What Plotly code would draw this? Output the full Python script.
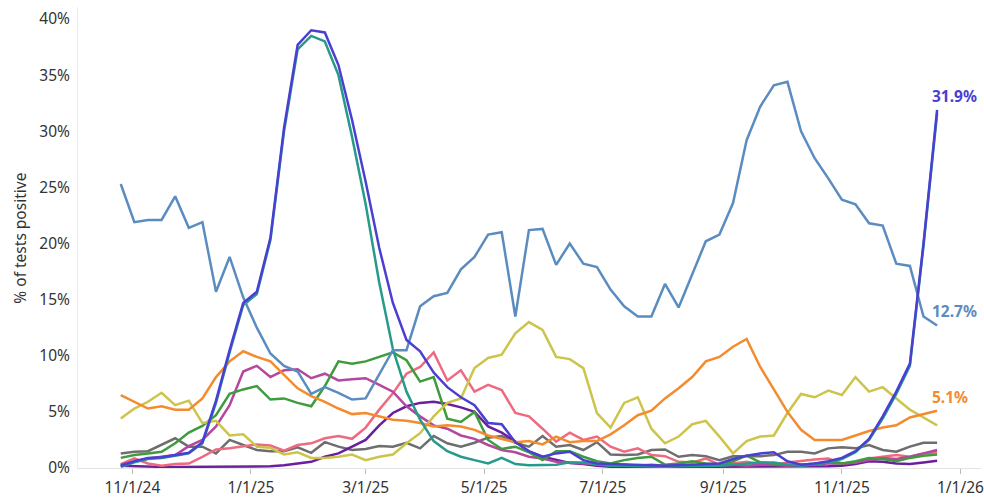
import pandas as pd
import plotly.graph_objects as go

dates = pd.date_range("2024-10-26", periods=61, freq="7D")

rhino = [25.3, 21.9, 22.1, 22.1, 24.2, 21.4, 21.9, 15.7, 18.8, 15.2,
         12.5, 10.2, 9.1, 8.6, 6.6, 7.2, 6.7, 6.1, 6.2, 8.4,
         10.5, 10.5, 14.4, 15.3, 15.6, 17.7, 18.8, 20.8, 21.0, 13.5,
         21.2, 21.3, 18.1, 20.0, 18.2, 17.9, 15.9, 14.4, 13.5, 13.5,
         16.4, 14.3, 17.3, 20.2, 20.8, 23.6, 29.2, 32.2, 34.1, 34.4,
         30.0, 27.6, 25.8, 23.9, 23.5, 21.8, 21.6, 18.2, 18.0, 13.5, 12.7]

flu_a = [0.2, 0.6, 0.9, 0.95, 1.15, 1.35, 2.3, 6.0, 10.5, 14.7,
         15.7, 20.5, 30.3, 37.7, 39.0, 38.8, 35.9, 31.0, 25.5, 19.6,
         14.7, 11.4, 10.4, 8.5, 7.2, 6.3, 5.6, 4.0, 3.9, 2.3,
         1.5, 1.0, 1.3, 1.45, 0.7, 0.4, 0.35, 0.3, 0.3, 0.25,
         0.2, 0.25, 0.3, 0.3, 0.4, 0.8, 1.1, 1.3, 1.4, 0.6,
         0.3, 0.4, 0.6, 0.9, 1.5, 2.6, 4.6, 6.8, 9.3, 20.0, 31.9]

flu_a_sub = [0.1, 0.5, 0.8, 0.9, 1.1, 1.3, 2.2, 5.8, 10.3, 14.5,
             15.5, 20.3, 30.0, 37.3, 38.5, 38.0, 35.0, 29.5, 23.5, 16.5,
             10.6, 6.8, 4.3, 2.4, 1.5, 1.0, 0.7, 0.4, 0.9, 0.35,
             0.25, 0.25, 0.3, 0.5, 0.5, 0.3, 0.2, 0.2, 0.15, 0.15,
             0.1, 0.15, 0.15, 0.2, 0.2, 0.3, 0.4, 0.5, 0.5, 0.3,
             0.2, 0.3, 0.5, 0.8, 1.4, 2.5, 4.4, 6.6, 9.1, 19.8, 31.6]

covid = [6.5, 5.9, 5.3, 5.5, 5.2, 5.2, 6.2, 8.1, 9.5, 10.4,
         9.9, 9.5, 8.3, 7.1, 6.4, 5.9, 5.3, 4.8, 4.9, 4.6,
         4.3, 4.2, 4.0, 3.7, 3.8, 3.7, 3.4, 2.9, 2.6, 2.3,
         2.4, 2.1, 2.8, 2.3, 2.4, 2.4, 3.0, 3.8, 4.7, 5.1,
         6.2, 7.1, 8.1, 9.5, 9.9, 10.8, 11.5, 9.0, 7.0, 5.0,
         3.4, 2.5, 2.5, 2.5, 2.9, 3.3, 3.6, 3.8, 4.5, 4.8, 5.1]

yellow = [4.4, 5.3, 5.9, 6.7, 5.6, 6.0, 4.0, 4.2, 2.9, 3.0,
          1.9, 1.8, 1.2, 1.4, 0.9, 0.9, 1.0, 1.2, 0.7, 1.0,
          1.2, 2.2, 3.1, 4.6, 5.8, 6.2, 8.9, 9.8, 10.1, 12.0,
          13.0, 12.3, 9.9, 9.7, 8.9, 4.9, 3.6, 5.8, 6.3, 3.5,
          2.2, 2.8, 3.9, 4.2, 2.8, 1.3, 2.4, 2.8, 2.9, 4.9,
          6.6, 6.3, 6.9, 6.5, 8.1, 6.8, 7.2, 6.2, 5.2, 4.5, 3.8]

green = [0.9, 1.15, 1.3, 1.45, 2.2, 3.15, 3.75, 4.7, 6.6, 7.0,
         7.3, 6.1, 6.2, 5.8, 5.5, 7.3, 9.5, 9.3, 9.5, 9.9,
         10.3, 9.6, 7.7, 8.1, 4.4, 4.1, 5.0, 2.5, 1.7, 1.9,
         1.4, 0.7, 1.5, 1.5, 1.0, 0.6, 0.4, 0.7, 0.9, 1.0,
         0.3, 0.4, 0.6, 0.4, 0.3, 0.6, 1.1, 0.5, 0.4, 0.3,
         0.3, 0.4, 0.5, 0.4, 0.6, 0.9, 0.8, 0.6, 0.9, 1.1, 1.2]

magenta = [0.3, 0.6, 0.85, 1.0, 1.15, 1.95, 2.5, 3.7, 5.6, 8.6,
           9.1, 8.1, 8.7, 8.8, 8.0, 8.4, 7.8, 7.9, 8.0, 7.4,
           6.8, 5.5, 4.6, 3.8, 3.5, 2.9, 2.6, 2.05, 1.6, 1.4,
           1.0, 0.85, 0.55, 0.5, 0.4, 0.3, 0.25, 0.3, 0.2, 0.3,
           0.2, 0.3, 0.2, 0.3, 0.2, 0.3, 0.2, 0.3, 0.3, 0.2,
           0.3, 0.3, 0.4, 0.4, 0.5, 0.7, 0.9, 0.8, 1.0, 1.3, 1.6]

pink = [0.35, 0.85, 0.4, 0.2, 0.35, 0.4, 1.0, 1.65, 1.75, 1.9,
        2.1, 2.0, 1.55, 2.05, 2.2, 2.65, 2.85, 2.6, 3.6, 5.2,
        6.65, 8.4, 9.0, 10.3, 7.8, 8.7, 6.8, 7.4, 6.95, 4.9,
        4.6, 3.5, 2.35, 3.15, 2.5, 2.8, 1.9, 1.45, 1.75, 1.15,
        1.05, 0.55, 0.5, 0.85, 0.3, 0.4, 0.55, 0.35, 0.3, 0.5,
        0.65, 0.75, 0.85, 0.4, 0.5, 0.85, 1.0, 1.15, 1.0, 1.3, 1.4]

gray = [1.3, 1.45, 1.5, 2.1, 2.65, 1.9, 1.9, 1.3, 2.5, 2.05,
        1.6, 1.5, 1.5, 1.85, 1.35, 2.3, 1.9, 1.6, 1.7, 1.95,
        1.9, 2.25, 1.75, 2.85, 2.2, 1.9, 2.25, 2.7, 2.85, 2.25,
        1.9, 2.85, 1.9, 2.05, 1.6, 2.3, 1.2, 1.15, 1.2, 1.6,
        1.65, 1.0, 1.15, 1.05, 0.7, 1.05, 1.05, 1.05, 1.15, 1.45,
        1.45, 1.3, 1.75, 1.85, 1.75, 2.05, 1.6, 1.45, 1.9, 2.25, 2.25]

flu_b = [0.2, 0.15, 0.1, 0.1, 0.1, 0.1, 0.1, 0.15, 0.15, 0.1,
         0.1, 0.15, 0.25, 0.4, 0.55, 1.0, 1.3, 1.9, 2.5, 3.8,
         4.9, 5.5, 5.8, 5.9, 5.7, 5.4, 5.0, 3.7, 3.15, 2.35,
         1.45, 1.0, 0.75, 0.45, 0.35, 0.2, 0.12, 0.1, 0.1, 0.1,
         0.1, 0.1, 0.1, 0.1, 0.1, 0.1, 0.1, 0.1, 0.1, 0.1,
         0.1, 0.1, 0.15, 0.2, 0.35, 0.6, 0.55, 0.4, 0.35, 0.5, 0.65]

x_tick_vals = ["2024-11-01", "2025-01-01", "2025-03-01", "2025-05-01",
               "2025-07-01", "2025-09-01", "2025-11-01", "2026-01-01"]
x_tick_text = ["11/1/24", "1/1/25", "3/1/25", "5/1/25",
               "7/1/25", "9/1/25", "11/1/25", "1/1/26"]
y_tick_vals = [0, 5, 10, 15, 20, 25, 30, 35, 40]
y_tick_text = ["0%", "5%", "10%", "15%", "20%", "25%", "30%", "35%", "40%"]

series = [
    ("Gray", gray, "#6e6e6e"),
    ("Flu B", flu_b, "#6a1f9c"),
    ("Pink", pink, "#ee6a80"),
    ("Magenta", magenta, "#b4479e"),
    ("Green", green, "#3e9b3e"),
    ("Yellow", yellow, "#cdc44c"),
    ("Orange", covid, "#f38b2f"),
    ("Teal", flu_a_sub, "#279a8c"),
    ("Rhino", rhino, "#5b8cc0"),
    ("Flu A", flu_a, "#4a3fd2"),
]

FONT = "Noto Sans"
fig = go.Figure()
for name, vals, color in series:
    fig.add_trace(go.Scatter(x=dates, y=vals, mode="lines", name=name,
                             line=dict(color=color, width=2.5),
                             showlegend=False))

labels = [(flu_a, "#4a3fd2"), (rhino, "#5b8cc0"), (covid, "#f38b2f")]
for vals, color in labels:
    fig.add_annotation(x=dates[-1], y=vals[-1], text=f"{vals[-1]:.1f}%",
                       showarrow=False, xanchor="left", yanchor="bottom",
                       xshift=-7, yshift=1,
                       font=dict(family=FONT, size=15.5, color=color, weight="bold"))

fig.add_annotation(text="% of tests positive", xref="paper", yref="paper",
                   x=-0.0646, y=0.499, xanchor="center", yanchor="middle",
                   textangle=-90, showarrow=False,
                   font=dict(family=FONT, size=15.5, color="#333333"))

fig.update_layout(
    width=984, height=501,
    margin=dict(l=78, r=0, t=7, b=33),
    paper_bgcolor="white", plot_bgcolor="white",
    font=dict(family=FONT, size=15.5, color="#333333"),
    xaxis=dict(range=["2024-10-04", "2026-01-11 14:00"],
               tickvals=x_tick_vals, ticktext=x_tick_text,
               showgrid=False, zeroline=False,
               showline=True, linecolor="#e3e3e3", linewidth=1,
               ticks="outside", ticklen=5, tickcolor="#bbbbbb",
               ticklabeloverflow="allow"),
    yaxis=dict(range=[0, 41.07], tickvals=y_tick_vals, ticktext=y_tick_text,
               showgrid=False, zeroline=False,
               showline=True, linecolor="#ececec", linewidth=1,
               ticks="", ticklabelstandoff=4),
)

fig.write_html("out.html", config={"displayModeBar": False},
               post_script="document.body.style.margin='0px';document.body.style.overflow='hidden';")
